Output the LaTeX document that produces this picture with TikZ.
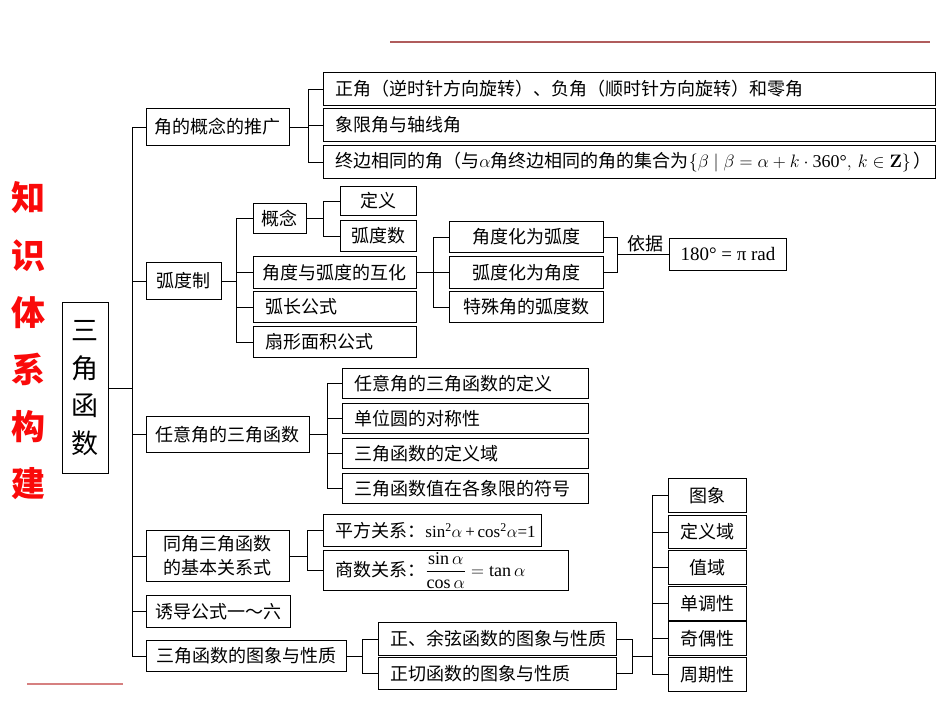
\RequirePackage{fix-cm}
\documentclass[tikz,border=0pt]{standalone}
\usepackage{amsmath}
\usepackage[no-math]{fontspec}
\usetikzlibrary{calc}
\setmainfont{Noto Sans CJK SC}
\newfontfamily\tnr{Liberation Serif}
\definecolor{topline}{RGB}{176,92,92}
\definecolor{botline}{RGB}{214,128,128}
\definecolor{titlered}{RGB}{250,10,10}
\newcommand\mkbox[7]{%
  \pgfmathsetmacro\bw{#4-#2}%
  \pgfmathsetmacro\bh{#5-#3}%
  \pgfmathsetmacro\tw{#4-#2-24}%
  \node[box, minimum width=\bw pt, minimum height=\bh pt, anchor=north west, #6] (#1) at (#2,#3) {#7};}
\newcommand\brk[4]{%
  \draw[conn] (#1.east) -- (#1.east -| #2);
  \draw[conn] (#3.west) -| (#2 |- #4.west) -- (#4.west);}
\newcommand\midc[2]{\draw[conn] (#1.west) -- (#1.west -| #2);}
\newcommand\tr[1]{\mbox{\tnr #1}}
\begin{document}
\begin{tikzpicture}[x=1pt,y=-1pt,
  box/.style={draw, line width=0.9pt, inner sep=0pt, font=\fontsize{18}{21}\selectfont},
  lft/.style={inner xsep=12pt, execute at begin node={\hbox to \tw pt\bgroup}, execute at end node={\hss\egroup}},
  conn/.style={line width=0.8pt}]
\useasboundingbox (0,0) rectangle (950,713);
% decorative lines
\draw[topline, line width=1.4pt] (390,42) -- (930,42);
\draw[botline, line width=2pt] (27,684) -- (123,684);
% title
\node[text=titlered, font=\fontsize{34}{57.2}\selectfont\bfseries, align=center] (title) at (28,341) {知\\识\\体\\系\\构\\建};
% main box
\mkbox{M}{62}{302}{108}{473}{align=center, font=\fontsize{27}{37.5}\selectfont}{三\\角\\函\\数}
% level 1
\mkbox{A1}{146}{108}{289}{145}{}{角的概念的推广}
\mkbox{A2}{146}{262}{221}{299}{}{弧度制}
\mkbox{A3}{146}{416}{309}{452}{}{任意角的三角函数}
\mkbox{A4}{146}{530}{289}{581}{align=center, font=\fontsize{18}{24}\selectfont}{同角三角函数\\的基本关系式}
\mkbox{A5}{146}{595}{290}{627}{}{诱导公式一～六}
\mkbox{A6}{146}{640}{346}{671}{}{三角函数的图象与性质}
% top group
\mkbox{B1}{323}{72}{935}{105}{lft}{正角（逆时针方向旋转）、负角（顺时针方向旋转）和零角}
\mkbox{B2}{323}{108}{935}{141}{lft}{象限角与轴线角}
\mkbox{B3}{323}{145}{935}{178}{lft}{终边相同的角（与$\alpha$角终边相同的角的集合为$\{\beta\mid\beta=\alpha+k\cdot\tr{360°},\,k\in\mathbf{Z}\}$\,）}
% radian group
\mkbox{C1}{253}{203}{306}{233}{}{概念}
\mkbox{C2}{253}{256}{416}{288}{}{角度与弧度的互化}
\mkbox{C3}{253}{291}{416}{322}{lft}{弧长公式}
\mkbox{C4}{253}{326}{416}{357}{lft}{扇形面积公式}
\mkbox{D1}{340}{186}{416}{215}{}{定义}
\mkbox{D2}{340}{220}{416}{251}{}{弧度数}
\mkbox{E1}{449}{221}{603}{252}{}{角度化为弧度}
\mkbox{E2}{449}{256}{603}{288}{}{弧度化为角度}
\mkbox{E3}{449}{291}{603}{322}{}{特殊角的弧度数}
\mkbox{F}{669}{238}{786}{270}{font=\tnr\fontsize{19}{21}\selectfont}{180° = π rad}
% any angle group
\mkbox{G1}{342}{368}{588}{398}{lft}{任意角的三角函数的定义}
\mkbox{G2}{342}{403}{588}{433}{lft}{单位圆的对称性}
\mkbox{G3}{342}{438}{588}{468}{lft}{三角函数的定义域}
\mkbox{G4}{342}{473}{588}{503}{lft}{三角函数值在各象限的符号}
% relations
\mkbox{H1}{323}{514}{541}{546}{lft}{平方关系：{\fontsize{17}{19}\selectfont{\tnr sin\textsuperscript{2}}$\alpha$\,{\tnr +}\,{\tnr cos\textsuperscript{2}}$\alpha${\tnr =1}}}
\mkbox{H2}{323}{550}{568}{590}{lft}{商数关系：$\dfrac{\tr{sin}\,\alpha}{\tr{cos}\,\alpha}=\tr{tan}\,\alpha$}
% graphs
\mkbox{I1}{378}{622}{616}{655}{lft}{正、余弦函数的图象与性质}
\mkbox{I2}{378}{657}{616}{689}{lft}{正切函数的图象与性质}
\mkbox{J1}{668}{478}{746}{512}{}{图象}
\mkbox{J2}{668}{515}{746}{548}{}{定义域}
\mkbox{J3}{668}{550}{746}{584}{}{值域}
\mkbox{J4}{668}{586}{746}{620}{}{单调性}
\mkbox{J5}{668}{621}{746}{655}{}{奇偶性}
\mkbox{J6}{668}{657}{746}{691}{}{周期性}
% bracket coordinates
\coordinate (T) at (132,0);
\coordinate (bA1) at (308,0);
\coordinate (bA2) at (236,0);
\coordinate (bC1) at (323,0);
\coordinate (bC2) at (433,0);
\coordinate (bE) at (617,0);
\coordinate (bA3) at (327,0);
\coordinate (bA4) at (307,0);
\coordinate (bA6) at (362,0);
\coordinate (bI) at (632,0);
\coordinate (bJ) at (652,0);
% trunk
\draw[conn] (M.east) -- (M.east -| T);
\draw[conn] (A1.west) -| (T |- A6.west) -- (A6.west);
\midc{A2}{T}\midc{A3}{T}\midc{A4}{T}\midc{A5}{T}
% branches
\brk{A1}{bA1}{B1}{B3}\midc{B2}{bA1}
\brk{A2}{bA2}{C1}{C4}\midc{C2}{bA2}\midc{C3}{bA2}
\brk{C1}{bC1}{D1}{D2}
\brk{C2}{bC2}{E1}{E3}\midc{E2}{bC2}
\draw[conn] (E1.east) -| (bE |- E2.east) -- (E2.east);
\draw[conn] (bE |- F.west) -- (F.west) node[pos=0.5, above=-1pt, xshift=2pt, font=\fontsize{18}{21}\selectfont] (yiju) {依据};
\brk{A3}{bA3}{G1}{G4}\midc{G2}{bA3}\midc{G3}{bA3}
\brk{A4}{bA4}{H1}{H2}
\brk{A6}{bA6}{I1}{I2}
\draw[conn] (I1.east) -| (bI |- I2.east) -- (I2.east);
\coordinate (iM) at ($(I1.east)!0.5!(I2.east)$);
\draw[conn] (bI |- iM) -- (bJ |- iM);
\draw[conn] (J1.west) -| (bJ |- J6.west) -- (J6.west);
\midc{J2}{bJ}\midc{J3}{bJ}\midc{J4}{bJ}\midc{J5}{bJ}
\end{tikzpicture}
\end{document}
